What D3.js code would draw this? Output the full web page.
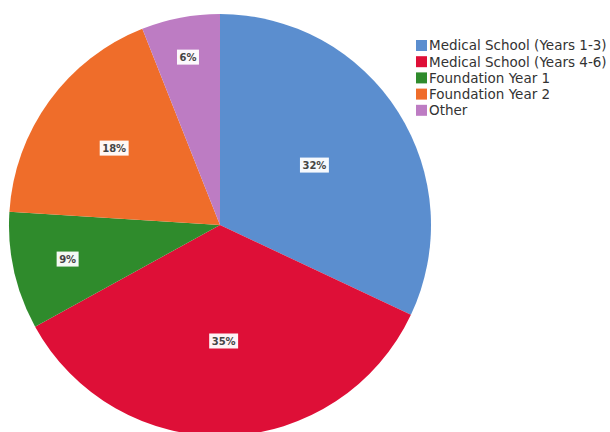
<!DOCTYPE html>
<html>
<head>
<meta charset="utf-8">
<script src="https://cdn.jsdelivr.net/npm/d3@7"></script>
<style>
  html, body { margin: 0; padding: 0; background: #fff; }
  svg { display: block; }
</style>
</head>
<body>
<svg id="chart" width="610" height="432"></svg>
<script>
// Share of respondents by stage of training
const categories = [
  "Medical School (Years 1-3)",
  "Medical School (Years 4-6)",
  "Foundation Year 1",
  "Foundation Year 2",
  "Other"
];
const values = [32, 35, 9, 18, 6];
const colors = ["#5b8ecf", "#de0f37", "#2f8b2c", "#ef6d2a", "#bd7cc3"];

// Layout
const cx = 220, cy = 225, radius = 211;
// Radial position of each value label, as a fraction of the radius
const labelRadius = [0.53, 0.55, 0.74, 0.62, 0.81];

const svg = d3.select("#chart");

const pie = d3.pie().sort(null).value(d => d.value);
const data = categories.map((c, i) => ({ name: c, value: values[i], color: colors[i], lr: labelRadius[i] }));
const arcs = pie(data);

const arc = d3.arc().innerRadius(0).outerRadius(radius);

const g = svg.append("g").attr("transform", `translate(${cx},${cy})`);

g.selectAll("path.slice")
  .data(arcs)
  .join("path")
  .attr("class", "slice")
  .attr("d", arc)
  .attr("fill", d => d.data.color);

// Value labels in white boxes
const labels = g.selectAll("g.lbl")
  .data(arcs)
  .join("g")
  .attr("class", "lbl")
  .attr("transform", d => {
    const a = (d.startAngle + d.endAngle) / 2;
    const r = radius * d.data.lr;
    return `translate(${r * Math.sin(a)},${-r * Math.cos(a)})`;
  });

labels.each(function(d) {
  const sel = d3.select(this);
  const t = sel.append("text")
    .attr("text-anchor", "middle")
    .attr("dy", "0.36em")
    .attr("font-family", "DejaVu Sans, sans-serif")
    .attr("font-size", 10)
    .attr("font-weight", "bold")
    .attr("fill", "#454545")
    .text(d.data.value + "%");
  const bb = t.node().getBBox();
  sel.insert("rect", "text")
    .attr("x", bb.x - 2.5)
    .attr("y", -7.5)
    .attr("width", bb.width + 5)
    .attr("height", 15)
    .attr("fill", "#fff")
    .attr("fill-opacity", 0.95);
});

// Legend
const legend = svg.append("g").attr("transform", "translate(416,40)");
const rowH = 16.2;
const items = legend.selectAll("g.item")
  .data(data)
  .join("g")
  .attr("class", "item")
  .attr("transform", (d, i) => `translate(0,${i * rowH})`);

items.append("rect")
  .attr("width", 11)
  .attr("height", 11)
  .attr("fill", d => d.color);

items.append("text")
  .attr("x", 13)
  .attr("y", 5.5)
  .attr("dy", "0.36em")
  .attr("font-family", "DejaVu Sans, sans-serif")
  .attr("font-size", 13.5)
  .attr("fill", "#333")
  .text(d => d.name);
</script>
</body>
</html>
